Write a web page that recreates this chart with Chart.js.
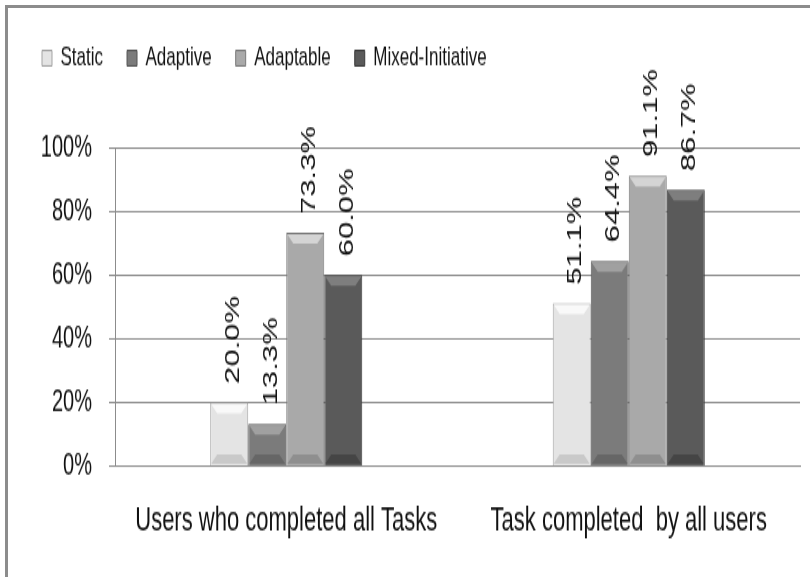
<!DOCTYPE html>
<html>
<head>
<meta charset="utf-8">
<script src="https://cdn.jsdelivr.net/npm/chart.js@4"></script>
<style>
  html, body { margin: 0; padding: 0; background: #fff; overflow: hidden; }
  #frame { position: absolute; left: 5px; top: 5px; width: 900px; height: 700px; border: 3px solid #8c8c8c; }
  #chart { position: absolute; left: 0; top: 0; }
</style>
</head>
<body>
<div id="frame"></div>
<!-- the drawing buffer is shorter than the box, so the chart is stretched tall -->
<canvas id="chart" width="810" height="372" style="width:810px;height:577px"></canvas>
<script>
const categories = ['Users who completed all Tasks', 'Task completed  by all users'];
const seriesNames = ['Static', 'Adaptive', 'Adaptable', 'Mixed-Initiative'];
const staticVals = [20.0, 51.1];
const adaptiveVals = [13.3, 64.4];
const adaptableVals = [73.3, 91.1];
const mixedVals = [60.0, 86.7];
const yTicks = [0, 20, 40, 60, 80, 100];

const FONT = "'Liberation Sans', Arial, sans-serif";

// fill, top bevel, bottom bevel, outline
const shades = [
  ['#e4e4e4', '#f9f9f9', '#c9c9c9', '#a3a3a3'],
  ['#7b7b7b', '#a0a0a0', '#666666', '#555555'],
  ['#a9a9a9', '#d4d4d4', '#8f8f8f', '#7a7a7a'],
  ['#5a5a5a', '#7e7e7e', '#454545', '#3a3a3a']
];

function makeDataset(i, values) {
  return {
    label: seriesNames[i],
    data: values,
    backgroundColor: shades[i][0],
    borderColor: shades[i][3],
    borderWidth: 1,
    barPercentage: 1,
    categoryPercentage: 0.444
  };
}

// extra room under the legend
const legendGap = {
  id: 'legendGap',
  beforeInit(chart) {
    const fit = chart.legend.fit;
    chart.legend.fit = function () {
      fit.bind(chart.legend)();
      this.height += 39;
    };
  }
};

// bevelled top and bottom of each bar
const bevel = {
  id: 'bevel',
  afterDatasetsDraw(chart) {
    const ctx = chart.ctx;
    const b = 6;
    chart.data.datasets.forEach((ds, i) => {
      chart.getDatasetMeta(i).data.forEach(bar => {
        const l = bar.x - bar.width / 2 + 1;
        const r = bar.x + bar.width / 2 - 1;
        const t = bar.y + 1;
        const base = bar.base - 1;
        ctx.save();
        ctx.fillStyle = shades[i][1];
        ctx.beginPath();
        ctx.moveTo(l, t); ctx.lineTo(r, t); ctx.lineTo(r - b, t + b); ctx.lineTo(l + b, t + b);
        ctx.closePath(); ctx.fill();
        ctx.fillStyle = shades[i][2];
        ctx.beginPath();
        ctx.moveTo(l, base); ctx.lineTo(r, base); ctx.lineTo(r - b, base - b); ctx.lineTo(l + b, base - b);
        ctx.closePath(); ctx.fill();
        ctx.restore();
      });
    });
  }
};

// rotated value labels above the bars
const barLabels = {
  id: 'barLabels',
  afterDatasetsDraw(chart) {
    const ctx = chart.ctx;
    ctx.save();
    ctx.font = '20px ' + FONT;
    ctx.fillStyle = '#111';
    ctx.textAlign = 'left';
    ctx.textBaseline = 'middle';
    chart.data.datasets.forEach((ds, i) => {
      chart.getDatasetMeta(i).data.forEach((bar, j) => {
        ctx.save();
        ctx.translate(bar.x + 4, bar.y - 12);
        ctx.rotate(-Math.PI / 2);
        ctx.fillText(ds.data[j].toFixed(1) + '%', 0, 0);
        ctx.restore();
      });
    });
    ctx.restore();
  }
};

new Chart(document.getElementById('chart'), {
  type: 'bar',
  data: {
    labels: categories,
    datasets: [
      makeDataset(0, staticVals),
      makeDataset(1, adaptiveVals),
      makeDataset(2, adaptableVals),
      makeDataset(3, mixedVals)
    ]
  },
  options: {
    responsive: false,
    animation: false,
    devicePixelRatio: 1,
    layout: { padding: { top: 5, left: 18, right: 10, bottom: 9 } },
    plugins: {
      tooltip: { enabled: false },
      legend: {
        position: 'top',
        align: 'start',
        labels: {
          font: { family: FONT, size: 17 },
          color: '#111',
          boxWidth: 10,
          boxHeight: 10,
          padding: 24
        }
      }
    },
    scales: {
      x: {
        grid: { display: false },
        border: { display: true, color: '#8c8c8c' },
        ticks: { font: { family: FONT, size: 22 }, color: '#111', padding: 14 }
      },
      y: {
        min: 0,
        max: 100,
        afterBuildTicks: scale => { scale.ticks = yTicks.map(v => ({ value: v })); },
        afterFit: scale => { scale.width = 97; },
        grid: { color: '#8c8c8c', tickLength: 6 },
        border: { display: true, color: '#8c8c8c' },
        ticks: {
          font: { family: FONT, size: 20 },
          color: '#111',
          padding: 17,
          callback: v => v + '%'
        }
      }
    }
  },
  plugins: [legendGap, bevel, barLabels]
});
</script>
</body>
</html>
